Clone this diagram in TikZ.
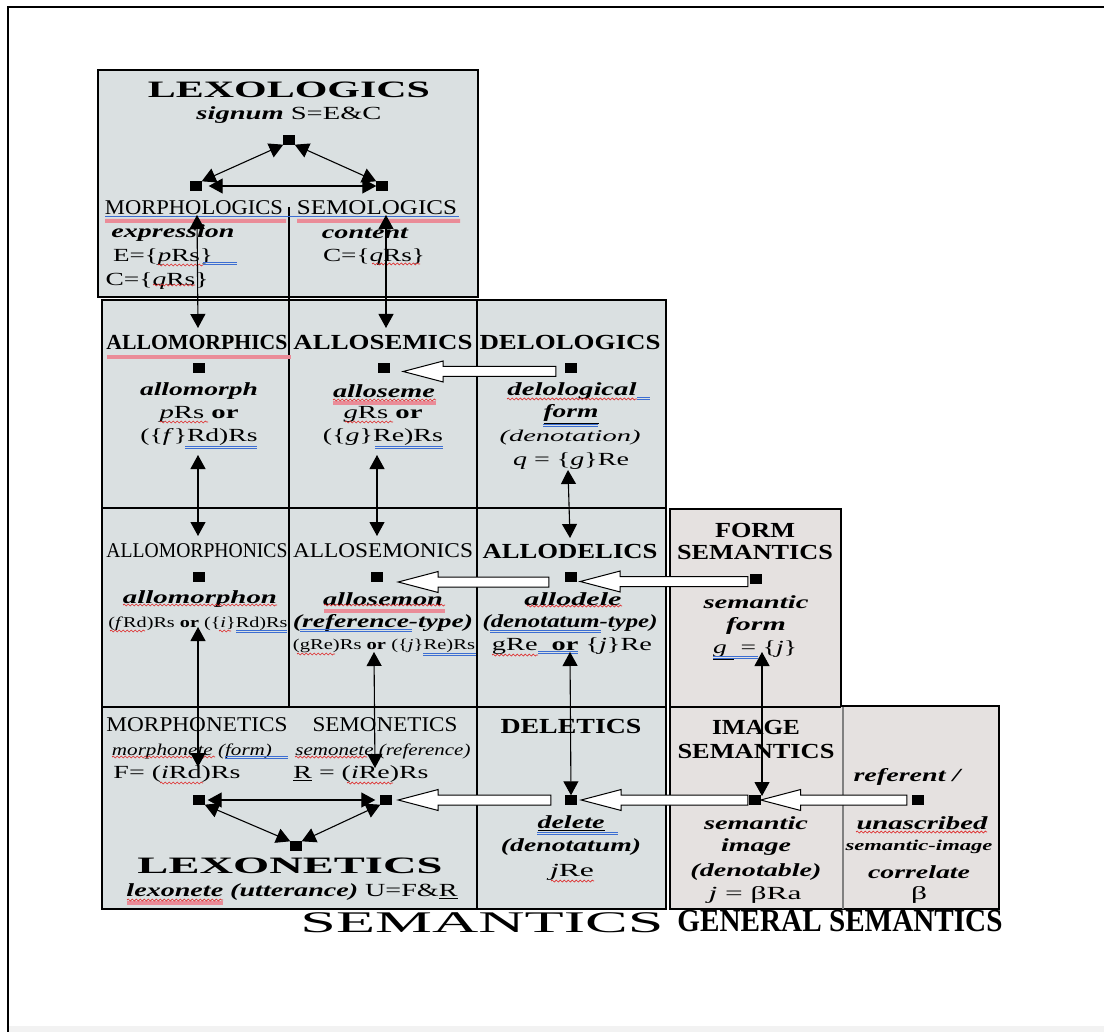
\documentclass[tikz,border=0pt]{standalone}
\usepackage{fontspec}
\setmainfont{Liberation Serif}
\usepackage{graphicx}
\usetikzlibrary{arrows.meta,calc,decorations.pathmorphing}
\newcommand\fitw[2]{\resizebox{#1pt}{\height}{#2}}
\definecolor{cellblue}{RGB}{218,224,225}
\definecolor{cellwarm}{RGB}{229,225,224}
\definecolor{bandgray}{RGB}{242,242,242}
\definecolor{wordred}{RGB}{222,40,40}
\definecolor{wordblue}{RGB}{60,110,210}
\definecolor{wordpink}{RGB}{234,140,152}
\tikzset{Tri/.tip={Triangle[length=14pt,width=15pt]}}
% horizontal hollow block arrow from one square to another
\newcommand\hollow[5]{%
  \draw[harrow] let \p1=($(#1.west)+(-#3,#5)$), \p2=($(#2.east)+(#4,#5)$) in
    (\x1,{\y1+5pt}) -- ({\x2+40pt},{\y1+5pt}) -- ({\x2+40pt},{\y1+10.5pt}) --
    (\x2,\y1) -- ({\x2+40pt},{\y1-10.5pt}) -- ({\x2+40pt},{\y1-5pt}) --
    (\x1,{\y1-5pt}) -- cycle;}
\newcommand\squig[3]{\draw[squigl] (#1,#3) -- (#2,#3);}
\newcommand\bdbl[3]{\draw[bluel] (#1,#3) -- (#2,#3) (#1,{#3+2.5}) -- (#2,{#3+2.5});}
\begin{document}
\begin{tikzpicture}[x=1pt,y=-1pt,
  sq/.style={fill=black,minimum width=11pt,minimum height=9pt,inner sep=0pt},
  lbl/.style={inner sep=0pt,anchor=center},
  tbig/.style={lbl,font=\fontsize{23.5}{27}\selectfont\bfseries},
  thead/.style={lbl,font=\fontsize{21.5}{25}\selectfont\bfseries},
  tcaps/.style={lbl,font=\fontsize{21}{25}\selectfont},
  tbi/.style={lbl,font=\fontsize{18.5}{22}\selectfont\bfseries\itshape},
  ttxt/.style={lbl,font=\fontsize{18.5}{22}\selectfont},
  tsmall/.style={lbl,font=\fontsize{15}{18}\selectfont},
  tsbi/.style={lbl,font=\fontsize{15}{18}\selectfont\bfseries\itshape},
  tit/.style={lbl,font=\fontsize{16.5}{20}\selectfont\itshape},
  tbottom/.style={lbl,font=\fontsize{30}{34}\selectfont},
  tbottomb/.style={lbl,font=\fontsize{32}{36}\selectfont\bfseries},
  dbl/.style={line width=1.1pt,Tri-Tri},
  harrow/.style={fill=white,draw=black,line width=1pt},
  boxline/.style={line width=2.5pt},
  gridline/.style={line width=1.1pt},
  squigl/.style={wordred,line width=0.7pt,decorate,decoration={snake,amplitude=1pt,segment length=4pt}},
  bluel/.style={wordblue,line width=0.8pt},
  pinkbar/.style={fill=wordpink}]
\useasboundingbox (0,0) rectangle (1104,1032);

% page frame
\fill[bandgray] (9,1026) rectangle (1104,1032);
\draw[line width=2.5pt] (8,1032) -- (8,7) -- (1104,7);

% panels
\draw[boxline,fill=cellblue] (98,70) rectangle (478,297);
\draw[boxline,fill=cellblue] (102,300) rectangle (666,909);
\draw[boxline,fill=cellwarm] (670,509) -- (841,509) -- (841,706) -- (999,706) -- (999,909) -- (670,909) -- cycle;
\draw[gridline] (102,508) -- (666,508) (102,707) -- (666,707) (477,300) -- (477,909)
  (289,207) -- (289,707) (670,707) -- (841,707);
\draw[gray,line width=1.2pt] (843,707) -- (843,909);

% lexologics
\node[tbig] (lexlog) at (289,90) {\fitw{282}{LEXOLOGICS}};
\node[ttxt] (signum) at (289,115) {\fitw{185}{\textbf{\textit{signum}} S=E\&C}};
\node[sq] (s0) at (289,140) {};
\node[sq] (s1) at (196,186) {};
\node[sq] (s2) at (382,186) {};
\node[tcaps] (morlog) at (194,208) {\fitw{178}{MORPHOLOGICS}};
\node[tcaps] (semlog) at (377,208) {\fitw{160}{SEMOLOGICS}};
\node[tbi] (expr) at (173,233) {\fitw{123}{expression}};
\node[tbi] (cont) at (365,233) {\fitw{86}{content}};
\node[ttxt] (eform) at (163,257) {\fitw{100}{E=\{\textit{p}Rs\}}};
\node[ttxt] (cforma) at (157,281) {\fitw{103}{C=\{\textit{q}Rs\}}};
\node[ttxt] (cformb) at (374,257) {\fitw{102}{C=\{\textit{q}Rs\}}};

% first row
\node[thead] (allomorphics) at (197,342) {\fitw{181}{ALLOMORPHICS}};
\node[thead] (allosemics) at (383,342) {\fitw{179}{ALLOSEMICS}};
\node[thead] (delologics) at (570,342) {\fitw{181}{DELOLOGICS}};
\node[sq] (a1) at (199,368) {};
\node[sq] (a2) at (384,368) {};
\node[sq] (a3) at (571,368) {};
\node[tbi] (allomorph) at (199,391) {\fitw{118}{allomorph}};
\node[ttxt] (prs) at (199,414) {\fitw{79}{\textit{p}Rs \textbf{or}}};
\node[ttxt] (frd) at (199,437) {\fitw{117}{(\{\textit{f}\}Rd)Rs}};
\node[tbi] (alloseme) at (384,391) {\fitw{102}{alloseme}};
\node[ttxt] (grs) at (383,414) {\fitw{79}{\textit{g}Rs \textbf{or}}};
\node[ttxt] (gre) at (383,437) {\fitw{120}{(\{\textit{g}\}Re)Rs}};
\node[tbi] (delological) at (572,391) {\fitw{129}{delological}};
\node[tbi] (dform) at (571,414) {\fitw{55}{\underline{form}}};
\node[tit] (denotation) at (570,438) {\fitw{141}{(denotation)}};
\node[ttxt] (qeq) at (571,461) {\fitw{116}{\textit{q} = \{\textit{g}\}Re}};

% second row
\node[tcaps] (allomorphonics) at (197,551) {\fitw{181}{ALLOMORPHONICS}};
\node[tcaps] (allosemonics) at (383,551) {\fitw{180}{ALLOSEMONICS}};
\node[thead] (allodelics) at (570,551) {\fitw{175}{ALLODELICS}};
\node[thead] (formsemA) at (755,530) {\fitw{80}{FORM}};
\node[thead] (formsemB) at (755,552) {\fitw{156}{SEMANTICS}};
\node[sq] (b1) at (199,577) {};
\node[sq] (b2) at (377,577) {};
\node[sq] (b3) at (571,577) {};
\node[sq] (b4) at (756,579) {};
\node[tbi] (allomorphon) at (200,599) {\fitw{154}{allomorphon}};
\node[tsmall] (frdrs) at (198,624) {\fitw{179}{(\textit{f}Rd)Rs \textbf{or} (\{\textit{i}\}Rd)Rs}};
\node[tbi] (allosemon) at (383,599) {\fitw{120}{allosemon}};
\node[tbi] (reftype) at (383,623) {\fitw{180}{(reference-type)}};
\node[tsmall] (grers) at (384,646) {\fitw{182}{(gRe)Rs \textbf{or} (\{\textit{j}\}Re)Rs}};
\node[tbi] (allodele) at (573,599) {\fitw{97}{allodele}};
\node[tbi] (dentype) at (570,623) {\fitw{175}{(denotatum-type)}};
\node[ttxt] (greor) at (572,646) {\fitw{160}{gRe\ \ \textbf{or} \{\textit{j}\}Re}};
\node[tbi] (semformA) at (756,602) {\fitw{105}{semantic}};
\node[tbi] (semformB) at (756,626) {\fitw{60}{form}};
\node[ttxt] (geqj) at (755,650) {\fitw{84}{\underline{\textit{g}\ } = \{\textit{j}\}}};

% third row
\node[tcaps] (morphonetics) at (197,725) {\fitw{181}{MORPHONETICS}};
\node[tcaps] (semonetics) at (385,725) {\fitw{145}{SEMONETICS}};
\node[thead] (deletics) at (571,726) {\fitw{141}{DELETICS}};
\node[thead] (imgsemA) at (756,727) {\fitw{88}{IMAGE}};
\node[thead] (imgsemB) at (756,751) {\fitw{157}{SEMANTICS}};
\node[tit] (morphonete) at (192,751) {\fitw{160}{morphonete (form)}};
\node[tit] (semonete) at (383,751) {\fitw{175}{semonete (reference)}};
\node[ttxt] (ffor) at (177,774) {\fitw{127}{F= (\textit{i}Rd)Rs}};
\node[ttxt] (rfor) at (361,774) {\fitw{135}{\underline{R} = (\textit{i}Re)Rs}};
\node[sq] (sl) at (199,800) {};
\node[sq] (sr) at (386,800) {};
\node[sq] (sb) at (296,846) {};
\node[tbig] (lexonetics) at (290,866) {\fitw{305}{LEXONETICS}};
\node[ttxt] (lexonete) at (292,892) {\fitw{331}{\textbf{\textit{lexonete (utterance)}} U=F\&\underline{R}}};
\node[sq] (c3) at (571,800) {};
\node[tbi] (delete) at (571,823) {\fitw{67}{\underline{delete}}};
\node[tbi] (denotatum) at (571,847) {\fitw{140}{(denotatum)}};
\node[ttxt] (jre) at (572,872) {\fitw{44}{\textit{j}Re}};
\node[sq] (c4) at (755,800) {};
\node[tbi] (simgA) at (756,823) {\fitw{104}{semantic}};
\node[tbi] (simgB) at (756,847) {\fitw{70}{image}};
\node[tbi] (simgC) at (756,872) {\fitw{131}{(denotable)}};
\node[ttxt] (simgD) at (755,895) {\fitw{93}{\textit{j} = βRa}};
\node[tbi] (referent) at (907,777) {\fitw{107}{referent /}};
\node[sq] (c5) at (918,800) {};
\node[tbi] (unascr) at (922,823) {\fitw{131}{unascribed}};
\node[tsbi] (semimg) at (919,847) {\fitw{147}{semantic-image}};
\node[tbi] (correlate) at (919,872) {\fitw{102}{correlate}};
\node[ttxt] (beta) at (919,895) {\fitw{16}{β}};

% captions under the panels
\node[tbottom] (semantics) at (482,923) {\fitw{363}{SEMANTICS}};
\node[tbottomb] (gensem) at (840,921) {\fitw{325}{GENERAL SEMANTICS}};

% proofing marks
\fill[pinkbar] (105,219) rectangle (286,223) (297,219) rectangle (460,223);
\draw[bluel] (105,216) -- (459,216);
\fill[pinkbar] (107,355) rectangle (291,359);
\fill[pinkbar] (333,401) rectangle (436,405);
\fill[pinkbar] (324,609) rectangle (445,613);
\fill[pinkbar] (127,901) rectangle (223,905);
\squig{158}{203}{265} \bdbl{203}{237}{262}
\squig{153}{195}{285}
\squig{372}{420}{264}
\squig{160}{208}{422} \bdbl{185}{257}{446}
\squig{333}{436}{400}
\squig{345}{393}{422} \bdbl{375}{443}{446}
\squig{507}{637}{399} \bdbl{637}{650}{397}
\bdbl{543}{598}{424}
\squig{123}{277}{605}
\squig{110}{145}{631} \squig{219}{231}{631} \bdbl{236}{287}{630}
\squig{324}{445}{605}
\bdbl{300}{412}{629}
\squig{297}{335}{654} \bdbl{423}{476}{653}
\squig{527}{622}{606}
\bdbl{490}{601}{630}
\squig{492}{538}{655} \bdbl{538}{578}{651}
\bdbl{713}{758}{656}
\squig{112}{215}{757} \bdbl{225}{288}{756}
\squig{295}{367}{757}
\squig{160}{203}{783}
\squig{347}{393}{783}
\squig{127}{223}{900}
\bdbl{537}{618}{832}
\squig{551}{594}{881}
\squig{856}{987}{832}

% connectors
\draw[dbl] (s0.south west) -- (s1.north east);
\draw[dbl] (s0.south east) -- (s2.north west);
\draw[dbl,shorten <=7pt] (s1.east) -- (s2.west);
\draw[dbl,shorten <=3pt,shorten >=5pt] (sl.east) -- (sr.west);
\draw[dbl] (sl.south east) -- (sb.north west);
\draw[dbl] (sr.south west) -- (sb.north east);

\coordinate (v1t) at (197,215); \coordinate (v1b) at (198,328);
\coordinate (v2t) at (386,215); \coordinate (v2b) at (386,328);
\coordinate (v3t) at (198,455); \coordinate (v3b) at (198,536);
\coordinate (v4t) at (377,455); \coordinate (v4b) at (377,536);
\coordinate (v5t) at (568,470); \coordinate (v5b) at (570,538);
\coordinate (v6t) at (198,627); \coordinate (v6b) at (198,767);
\coordinate (v7t) at (374,652); \coordinate (v7b) at (375,768);
\coordinate (v8t) at (570,652);
\coordinate (v9t) at (762,652); \coordinate (v9b) at (762,796);
\draw[dbl] (v1t) -- (v1b);
\draw[dbl] (v2t) -- (v2b);
\draw[dbl] (v3t) -- (v3b);
\draw[dbl] (v4t) -- (v4b);
\draw[dbl] (v5t) -- (v5b);
\draw[dbl] (v6t) -- (v6b);
\draw[dbl] (v7t) -- (v7b);
\draw[dbl] (v8t) -- (c3.north);
\draw[dbl] (v9t) -- (v9b);

\hollow{a3}{a2}{9.5}{13.5}{3.5}
\hollow{b3}{b2}{16.5}{15.5}{5}
\hollow{b4}{b3}{2.5}{3.5}{2.5}
\hollow{c3}{sr}{14.5}{6.5}{0}
\hollow{c4}{c3}{1.5}{4.5}{0}
\hollow{c5}{c4}{5.5}{0}{0}

% squares on top of arrow ends
\foreach \n in {s0,s1,s2,a1,a2,a3,b1,b2,b3,b4,sl,sr,sb,c3,c4,c5}
  \fill (\n.south west) rectangle (\n.north east);
\end{tikzpicture}
\end{document}
